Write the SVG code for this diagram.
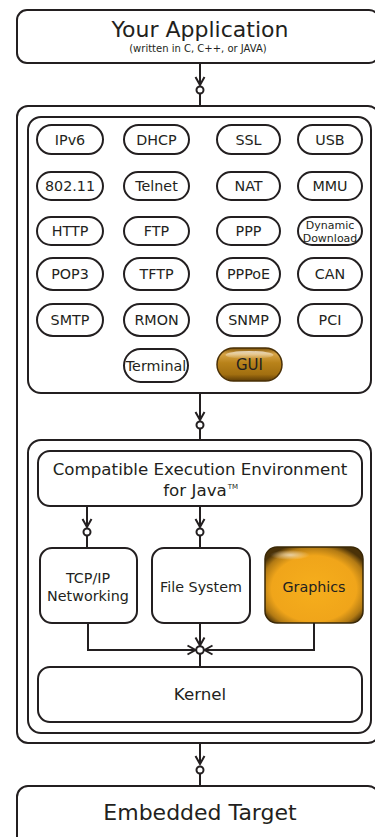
<svg xmlns="http://www.w3.org/2000/svg" width="375" height="837" viewBox="0 0 375 837">
  <style>
    .box { fill: #ffffff; stroke: #231f20; stroke-width: 2; }
    .pill { fill: #ffffff; stroke: #231f20; stroke-width: 2; }
    .ln { fill: none; stroke: #231f20; stroke-width: 2; }
    .dot { fill: #ffffff; stroke: #231f20; stroke-width: 2; }
    text { font-family: "DejaVu Sans", Verdana, sans-serif; fill: #231f20; text-anchor: middle; }
    .big { font-size: 22px; }
    .mid { font-size: 16.7px; }
    .pt { font-size: 14.3px; }
    .sm { font-size: 10px; }
    .xs { font-size: 11px; }
  </style>
  <defs>
    <marker id="arrow" viewBox="-10 -6 12 12" refX="0" refY="0" markerWidth="12" markerHeight="12" markerUnits="userSpaceOnUse" orient="auto">
      <path d="M-8,-4.5 L0,0 L-8,4.5" fill="none" stroke="#231f20" stroke-width="2"/>
    </marker>
    <linearGradient id="guiFill" x1="0" y1="0" x2="0" y2="1">
      <stop offset="0" stop-color="#7a5008"/>
      <stop offset="0.18" stop-color="#d8a446"/>
      <stop offset="0.45" stop-color="#b8821a"/>
      <stop offset="0.8" stop-color="#a26f10"/>
      <stop offset="1" stop-color="#5e3c06"/>
    </linearGradient>
    <radialGradient id="gfxFill" cx="0.5" cy="0.55" r="0.62">
      <stop offset="0" stop-color="#f6ae1c"/>
      <stop offset="0.7" stop-color="#f0a51a"/>
      <stop offset="0.88" stop-color="#b27a14"/>
      <stop offset="1" stop-color="#4a3208"/>
    </radialGradient>
    <linearGradient id="gloss" x1="0" y1="0" x2="0" y2="1">
      <stop offset="0" stop-color="#ffffff" stop-opacity="0.7"/>
      <stop offset="1" stop-color="#ffffff" stop-opacity="0"/>
    </linearGradient>
    <radialGradient id="spark" cx="0.5" cy="0.5" r="0.5">
      <stop offset="0" stop-color="#ffffff" stop-opacity="0.6"/>
      <stop offset="1" stop-color="#ffffff" stop-opacity="0"/>
    </radialGradient>
  </defs>

  <!-- application layer -->
  <g id="app">
    <rect class="box" x="17" y="10" width="362" height="53" rx="10"/>
    <text class="big" x="200" y="37">Your Application</text>
    <text class="sm" x="198" y="52">(written in C, C++, or JAVA)</text>
  </g>

  <!-- RTOS container -->
  <g id="rtos">
    <rect class="box" x="17" y="106" width="362" height="637" rx="11"/>
  </g>

  <!-- protocol / component panel -->
  <g id="components">
    <rect class="box" x="28" y="117" width="343" height="276" rx="13"/>
  </g>

  <g id="pill-ipv6"><rect class="pill" x="37" y="125" width="66" height="29" rx="14.5"/><text class="pt" x="70" y="144.5">IPv6</text></g>
  <g id="pill-dhcp"><rect class="pill" x="124" y="125" width="65" height="29" rx="14.5"/><text class="pt" x="156.5" y="144.5">DHCP</text></g>
  <g id="pill-ssl"><rect class="pill" x="217" y="125" width="63" height="29" rx="14.5"/><text class="pt" x="248.5" y="144.5">SSL</text></g>
  <g id="pill-usb"><rect class="pill" x="298" y="125" width="64" height="29" rx="14.5"/><text class="pt" x="330" y="144.5">USB</text></g>

  <g id="pill-80211"><rect class="pill" x="37" y="172" width="66" height="28" rx="14"/><text class="pt" x="70" y="191">802.11</text></g>
  <g id="pill-telnet"><rect class="pill" x="124" y="172" width="65" height="28" rx="14"/><text class="pt" x="156.5" y="191">Telnet</text></g>
  <g id="pill-nat"><rect class="pill" x="217" y="172" width="63" height="28" rx="14"/><text class="pt" x="248.5" y="191">NAT</text></g>
  <g id="pill-mmu"><rect class="pill" x="298" y="172" width="64" height="28" rx="14"/><text class="pt" x="330" y="191">MMU</text></g>

  <g id="pill-http"><rect class="pill" x="37" y="217" width="66" height="28" rx="14"/><text class="pt" x="70" y="236">HTTP</text></g>
  <g id="pill-ftp"><rect class="pill" x="124" y="217" width="65" height="28" rx="14"/><text class="pt" x="156.5" y="236">FTP</text></g>
  <g id="pill-ppp"><rect class="pill" x="217" y="217" width="63" height="28" rx="14"/><text class="pt" x="248.5" y="236">PPP</text></g>
  <g id="pill-dyn"><rect class="pill" x="298" y="217" width="64" height="28" rx="14"/><text class="xs" x="330" y="229">Dynamic</text><text class="xs" x="330" y="242">Download</text></g>

  <g id="pill-pop3"><rect class="pill" x="37" y="258" width="66" height="32" rx="16"/><text class="pt" x="70" y="279">POP3</text></g>
  <g id="pill-tftp"><rect class="pill" x="124" y="258" width="65" height="32" rx="16"/><text class="pt" x="156.5" y="279">TFTP</text></g>
  <g id="pill-pppoe"><rect class="pill" x="217" y="258" width="63" height="32" rx="16"/><text class="pt" x="248.5" y="279">PPPoE</text></g>
  <g id="pill-can"><rect class="pill" x="298" y="258" width="64" height="32" rx="16"/><text class="pt" x="330" y="279">CAN</text></g>

  <g id="pill-smtp"><rect class="pill" x="37" y="304" width="66" height="32" rx="16"/><text class="pt" x="70" y="325">SMTP</text></g>
  <g id="pill-rmon"><rect class="pill" x="124" y="304" width="65" height="32" rx="16"/><text class="pt" x="156.5" y="325">RMON</text></g>
  <g id="pill-snmp"><rect class="pill" x="217" y="304" width="63" height="32" rx="16"/><text class="pt" x="248.5" y="325">SNMP</text></g>
  <g id="pill-pci"><rect class="pill" x="298" y="304" width="64" height="32" rx="16"/><text class="pt" x="330" y="325">PCI</text></g>

  <g id="pill-terminal"><rect class="pill" x="124" y="349" width="64" height="33" rx="16.5"/><text class="pt" x="156" y="371">Terminal</text></g>
  <g id="pill-gui">
    <rect x="217" y="348" width="65" height="33" rx="16.5" fill="url(#guiFill)" stroke="#4a3006" stroke-width="1.5"/>
    <ellipse cx="249.5" cy="355" rx="24" ry="4" fill="url(#gloss)"/>
    <text class="pt" x="249.5" y="370" style="font-size:15px">GUI</text>
  </g>

  <!-- kernel subsystem panel -->
  <g id="kernel-panel">
    <rect class="box" x="28" y="440" width="343" height="293" rx="13"/>
  </g>

  <g id="java">
    <rect class="box" x="38" y="451" width="324" height="55" rx="12"/>
    <text class="mid" x="200" y="475">Compatible Execution Environment</text>
    <text class="mid" x="195" y="496">for Java</text>
    <text x="233" y="489" style="font-size:7px">TM</text>
  </g>

  <g id="tcpip">
    <rect class="box" x="40" y="548" width="97" height="75" rx="12"/>
    <text class="pt" x="88" y="583">TCP/IP</text>
    <text class="pt" x="88" y="601">Networking</text>
  </g>

  <g id="filesystem">
    <rect class="box" x="152" y="548" width="98" height="75" rx="12"/>
    <text class="pt" x="201" y="592">File System</text>
  </g>

  <g id="graphics">
    <rect x="265" y="547" width="98" height="76" rx="12" fill="url(#gfxFill)" stroke="#3a2806" stroke-width="1.5"/>
    <ellipse cx="290" cy="555" rx="20" ry="5" fill="url(#spark)"/>
    <text class="pt" x="314" y="592">Graphics</text>
  </g>

  <g id="kernel">
    <rect class="box" x="38" y="667" width="324" height="55" rx="12"/>
    <text class="mid" x="200" y="700">Kernel</text>
  </g>

  <!-- hardware layer -->
  <g id="target">
    <rect class="box" x="17" y="786" width="362" height="70" rx="11"/>
    <text class="big" x="200" y="820">Embedded Target</text>
  </g>

  <!-- connectors: arrow into an interface socket -->
  <g id="connectors">
    <path class="ln" d="M200,63 V85" marker-end="url(#arrow)"/>
    <path class="ln" d="M200,93.5 V106"/>
    <circle class="dot" cx="200" cy="90" r="3.5"/>

    <path class="ln" d="M200,393 V420" marker-end="url(#arrow)"/>
    <path class="ln" d="M200,428.5 V440"/>
    <circle class="dot" cx="200" cy="425" r="3.5"/>

    <path class="ln" d="M87,506 V527" marker-end="url(#arrow)"/>
    <path class="ln" d="M87,535.5 V548"/>
    <circle class="dot" cx="87" cy="532" r="3.5"/>

    <path class="ln" d="M200,506 V527" marker-end="url(#arrow)"/>
    <path class="ln" d="M200,535.5 V548"/>
    <circle class="dot" cx="200" cy="532" r="3.5"/>

    <path class="ln" d="M88,623 V650 H195.5" marker-end="url(#arrow)"/>
    <path class="ln" d="M314,623 V650 H204.5" marker-end="url(#arrow)"/>
    <path class="ln" d="M200,623 V645.5" marker-end="url(#arrow)"/>
    <path class="ln" d="M200,654 V667"/>
    <circle class="dot" cx="200" cy="650" r="3.8"/>

    <path class="ln" d="M200,743 V764" marker-end="url(#arrow)"/>
    <path class="ln" d="M200,773.5 V786"/>
    <circle class="dot" cx="200" cy="770" r="3.5"/>
  </g>
</svg>
